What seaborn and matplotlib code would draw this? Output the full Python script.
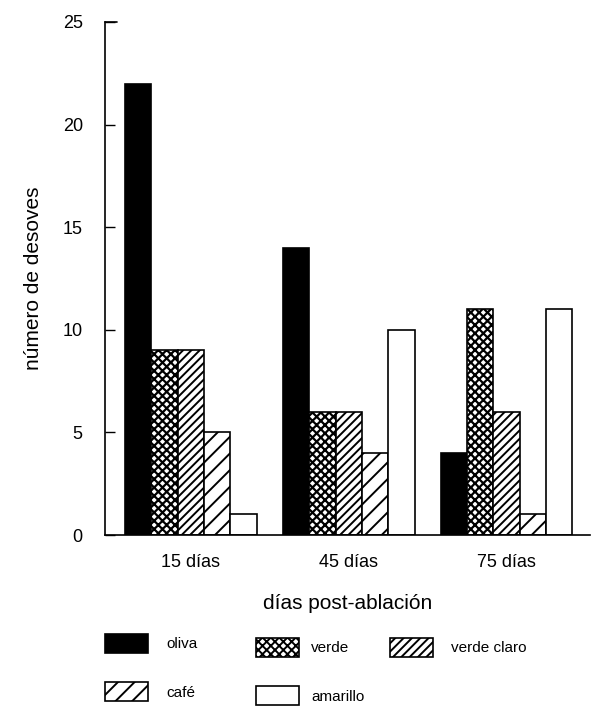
import matplotlib
matplotlib.use("Agg")
import matplotlib.pyplot as plt
import matplotlib.patches as mpatches
import seaborn as sns
import pandas as pd

categories = ["15 días", "45 días", "75 días"]
series = ["oliva", "verde", "verde claro", "café", "amarillo"]
oliva = [22, 14, 4]
verde = [9, 6, 11]
verde_claro = [9, 6, 6]
cafe = [5, 4, 1]
amarillo = [1, 10, 11]
values = [oliva, verde, verde_claro, cafe, amarillo]
yticks = [0, 5, 10, 15, 20, 25]

rows = []
for s, vals in zip(series, values):
    for c, v in zip(categories, vals):
        rows.append({"dias": c, "color": s, "n": v})
df = pd.DataFrame(rows)

sns.set_style("white")
plt.rcParams["font.family"] = ["Liberation Sans", "DejaVu Sans"]
plt.rcParams["hatch.linewidth"] = 1.4
plt.rcParams["text.color"] = "black"
plt.rcParams["axes.labelcolor"] = "black"
plt.rcParams["xtick.color"] = "black"
plt.rcParams["ytick.color"] = "black"

faces = ["black", "white", "white", "white", "white"]
hatches = [None, "xxxx", "////", "//", None]
hlw = [1.0, 1.6, 1.4, 1.4, 1.0]


def style_patch(p, fc, h, lw):
    p.set_facecolor(fc)
    p.set_edgecolor("black")
    if h:
        p.set_hatch(h)
        try:
            p.set_hatch_linewidth(lw)
        except Exception:
            pass


fig = plt.figure(figsize=(5.98, 7.09), dpi=100)
ax = fig.add_axes([0.1756, 0.2454, 0.811, 0.7236])
sns.barplot(data=df, x="dias", y="n", hue="color", hue_order=series,
            order=categories, palette=["white"] * 5, width=0.835,
            edgecolor="black", linewidth=1.2, ax=ax, legend=False)

for cont, fc, h, lw in zip(ax.containers, faces, hatches, hlw):
    for p in cont:
        style_patch(p, fc, h, lw)

ax.set_xlim(-0.545, 2.53)
ax.set_ylim(0, 25)
ax.set_yticks(yticks)
ax.tick_params(axis="y", direction="in", length=7, width=1, labelsize=13, left=True, pad=16,
               colors="black")
ax.tick_params(axis="x", length=0, labelsize=13, pad=14, colors="black")
for side in ["top", "right"]:
    ax.spines[side].set_visible(False)
for side in ["left", "bottom"]:
    ax.spines[side].set_color("black")
    ax.spines[side].set_linewidth(1.2)
ax.plot([0, 0.025], [1, 1], transform=ax.transAxes, color="black", lw=1.2, clip_on=False)

ax.set_xlabel("días post-ablación", fontsize=15, labelpad=16, color="black")
ax.set_ylabel("número de desoves", fontsize=15, labelpad=14, color="black")

handles = []
for s, fc, h, lw in zip(series, faces, hatches, hlw):
    hp = mpatches.Patch(facecolor=fc, edgecolor="black", label=s, linewidth=1.2)
    style_patch(hp, fc, h, lw)
    handles.append(hp)

W, H = 598.0, 709.0
columns = [([0, 3], 105, 634, 1.2), ([1, 4], 256, 638, 0.8), ([2], 390, 638, 1.2)]
for idx, x0, y0, tp in columns:
    leg = fig.legend([handles[i] for i in idx], [series[i] for i in idx],
                     loc="upper left", bbox_to_anchor=(x0 / W, 1 - y0 / H),
                     frameon=False, fontsize=11, handlelength=2.8, handleheight=1.5,
                     handletextpad=tp, labelspacing=1.95, borderpad=0, borderaxespad=0)
    for t in leg.get_texts():
        t.set_color("black")

fig.savefig("out.png", dpi=100)
